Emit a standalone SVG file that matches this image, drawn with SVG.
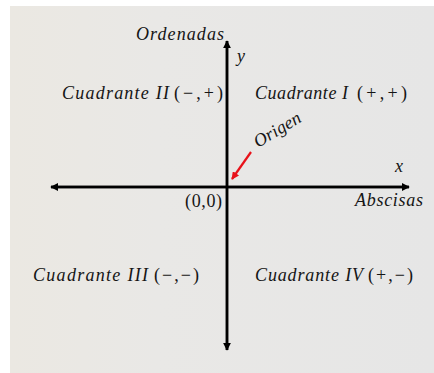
<svg xmlns="http://www.w3.org/2000/svg" width="434" height="373" viewBox="0 0 434 373">
<style>
.t{font-family:"Liberation Serif","DejaVu Serif",serif;font-size:18px;fill:#151515;font-style:italic}
.u{font-style:normal}
.ax{stroke:#000;stroke-width:2.5;fill:none}
</style>
<defs>
<linearGradient id="bg" x1="0" y1="0" x2="1" y2="0">
<stop offset="0" stop-color="#ebe8e2"/>
<stop offset="0.35" stop-color="#e9e8e6"/>
<stop offset="1" stop-color="#e6e6e6"/>
</linearGradient>
<marker id="ah" viewBox="0 0 10 10" refX="9" refY="5" markerWidth="3.2" markerHeight="3.2" orient="auto" markerUnits="strokeWidth">
<path d="M0,0 L10,5 L0,10 z" fill="#000"/>
</marker>
<marker id="rh" viewBox="0 0 10 10" refX="9" refY="5" markerWidth="3.5" markerHeight="3.5" orient="auto" markerUnits="strokeWidth">
<path d="M0,0 L10,5 L0,10 z" fill="#e8121a"/>
</marker>
</defs>
<rect x="0" y="0" width="434" height="373" fill="#ffffff"/>
<rect x="10" y="6" width="424" height="367" fill="url(#bg)"/>
<g id="connectors">
<line class="ax" x1="227" y1="350" x2="227" y2="41" marker-end="url(#ah)"/>
<line class="ax" x1="227" y1="41" x2="227" y2="350" marker-end="url(#ah)"/>
<line class="ax" x1="51" y1="187" x2="409" y2="187" marker-end="url(#ah)"/>
<line class="ax" x1="409" y1="187" x2="51" y2="187" marker-end="url(#ah)"/>
<line x1="251" y1="152" x2="232" y2="179" stroke="#e8121a" stroke-width="2.2" marker-end="url(#rh)"/>
</g>
<g id="ordenadas"><text class="t" x="136" y="40" textLength="88" lengthAdjust="spacing">Ordenadas</text></g>
<g id="y-label"><text class="t" x="237" y="62">y</text></g>
<g id="cuadrante-ii"><text class="t" y="99"><tspan x="62" textLength="107" lengthAdjust="spacing">Cuadrante II</tspan><tspan class="u" x="174" textLength="49" lengthAdjust="spacing">(−,+)</tspan></text></g>
<g id="cuadrante-i"><text class="t" y="99"><tspan x="255" textLength="93" lengthAdjust="spacing">Cuadrante I</tspan><tspan class="u" x="357" textLength="50" lengthAdjust="spacing">(+,+)</tspan></text></g>
<g id="origen"><text class="t" x="0" y="0" transform="translate(258,148) rotate(-31)" textLength="52" lengthAdjust="spacing">Origen</text></g>
<g id="x-label"><text class="t" x="395" y="172">x</text></g>
<g id="origin-coords"><text class="t u" x="185" y="207" textLength="37" lengthAdjust="spacing">(0,0)</text></g>
<g id="abscisas"><text class="t" x="355" y="206" textLength="68" lengthAdjust="spacing">Abscisas</text></g>
<g id="cuadrante-iii"><text class="t" y="281"><tspan x="33" textLength="115" lengthAdjust="spacing">Cuadrante III</tspan><tspan class="u" x="154" textLength="45" lengthAdjust="spacing">(−,−)</tspan></text></g>
<g id="cuadrante-iv"><text class="t" y="281"><tspan x="255" textLength="108" lengthAdjust="spacing">Cuadrante IV</tspan><tspan class="u" x="368" textLength="45" lengthAdjust="spacing">(+,−)</tspan></text></g>
</svg>
